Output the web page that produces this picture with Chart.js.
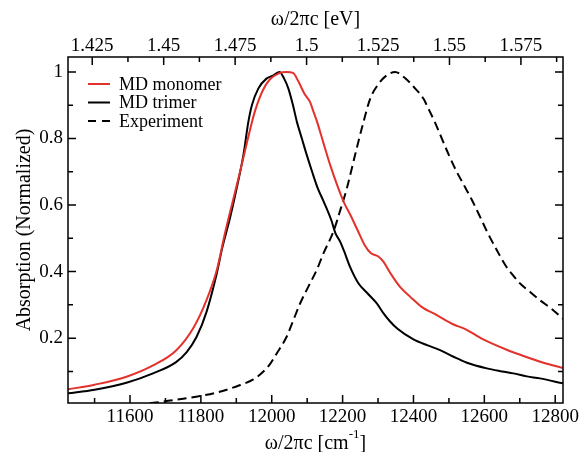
<!DOCTYPE html>
<html>
<head>
<meta charset="utf-8">
<script src="https://cdn.jsdelivr.net/npm/chart.js@4.4.0/dist/chart.umd.min.js"></script>
<style>
  body { margin: 0; background: #fff; }
</style>
</head>
<body>
<canvas id="absChart" width="583" height="452"></canvas>
<script>
// absorption spectra, wavenumber in cm^-1, normalized to the peak
var monomerX = [11425, 11500, 11590, 11665, 11730, 11780, 11815, 11845, 11868, 11892, 11915, 11935, 11952, 11975, 11995, 12020, 12042, 12060, 12075, 12092, 12108, 12118, 12128, 12145, 12165, 12188, 12205, 12222, 12242, 12262, 12280, 12300, 12315, 12335, 12362, 12391, 12423, 12466, 12513, 12545, 12597, 12663, 12701, 12767, 12822];
var monomerY = [0.046, 0.060, 0.084, 0.118, 0.163, 0.233, 0.312, 0.405, 0.515, 0.620, 0.720, 0.810, 0.880, 0.945, 0.978, 0.996, 1.000, 0.997, 0.972, 0.935, 0.910, 0.880, 0.850, 0.790, 0.720, 0.650, 0.605, 0.570, 0.525, 0.480, 0.455, 0.446, 0.430, 0.395, 0.354, 0.324, 0.294, 0.269, 0.241, 0.228, 0.196, 0.165, 0.150, 0.126, 0.110];

var trimerX = [11425, 11500, 11590, 11665, 11730, 11760, 11788, 11816, 11845, 11860, 11882, 11901, 11920, 11934, 11944, 11962, 11985, 12005, 12022, 12035, 12047, 12060, 12071, 12085, 12099, 12114, 12130, 12146, 12168, 12180, 12193, 12204, 12221, 12245, 12270, 12296, 12315, 12334, 12355, 12400, 12440, 12475, 12513, 12551, 12607, 12650, 12682, 12720, 12757, 12822];
var trimerY = [0.034, 0.045, 0.066, 0.094, 0.128, 0.158, 0.204, 0.279, 0.395, 0.470, 0.560, 0.650, 0.750, 0.850, 0.900, 0.950, 0.980, 0.990, 1.000, 0.980, 0.950, 0.900, 0.850, 0.800, 0.750, 0.700, 0.650, 0.612, 0.555, 0.515, 0.490, 0.462, 0.414, 0.364, 0.335, 0.305, 0.275, 0.250, 0.228, 0.196, 0.178, 0.164, 0.144, 0.126, 0.109, 0.100, 0.094, 0.085, 0.079, 0.064];

var exptX = [11656, 11704, 11750, 11798, 11840, 11873, 11911, 11948, 11975, 11995, 12014, 12042, 12061, 12080, 12103, 12127, 12146, 12174, 12195, 12212, 12235, 12259, 12278, 12300, 12320, 12348, 12376, 12405, 12428, 12442, 12460, 12480, 12500, 12522, 12545, 12565, 12590, 12610, 12635, 12659, 12680, 12701, 12730, 12757, 12790, 12822];
var exptY = [0.004, 0.011, 0.018, 0.026, 0.035, 0.045, 0.059, 0.076, 0.098, 0.122, 0.154, 0.204, 0.254, 0.304, 0.354, 0.405, 0.455, 0.520, 0.590, 0.650, 0.750, 0.850, 0.920, 0.962, 0.986, 1.000, 0.982, 0.950, 0.920, 0.890, 0.850, 0.800, 0.750, 0.700, 0.655, 0.615, 0.560, 0.515, 0.465, 0.420, 0.390, 0.364, 0.338, 0.314, 0.288, 0.258];

var cmTicks = [11600, 11800, 12000, 12200, 12400, 12600, 12800];
var cmMinor = [11500, 11700, 11900, 12100, 12300, 12500, 12700];
var evTicks = [1.425, 1.45, 1.475, 1.5, 1.525, 1.55, 1.575];
var evMinor = [1.4375, 1.4625, 1.4875, 1.5125, 1.5375, 1.5625, 1.5875];
var yTicks = [0.2, 0.4, 0.6, 0.8, 1];
var yMinor = [0.1, 0.3, 0.5, 0.7, 0.9];

var CM_PER_EV = 8065.54;
var xMin = 11425, xMax = 12822;
var serif = "'Liberation Serif', 'Times New Roman', serif";

function pts(xs, ys) {
  return xs.map(function (x, i) { return { x: x, y: ys[i] }; });
}

function fixTicks(list) {
  return function (scale) {
    scale.ticks = list.map(function (v) { return { value: v }; });
  };
}

// inward tick marks on all four sides plus the box
var frameTicks = {
  id: 'frameTicks',
  afterDraw: function (chart) {
    var ctx = chart.ctx, a = chart.chartArea;
    var sx = chart.scales.x, st = chart.scales.xTop, sy = chart.scales.y;
    ctx.save();
    ctx.strokeStyle = '#000';
    ctx.lineWidth = 1.5;
    ctx.setLineDash([]);
    ctx.beginPath();
    function bottomTick(v, len) {
      var p = sx.getPixelForValue(v);
      ctx.moveTo(p, a.bottom); ctx.lineTo(p, a.bottom - len);
    }
    function topTick(v, len) {
      var p = st.getPixelForValue(v);
      ctx.moveTo(p, a.top); ctx.lineTo(p, a.top + len);
    }
    function sideTick(v, len) {
      var p = sy.getPixelForValue(v);
      ctx.moveTo(a.left, p); ctx.lineTo(a.left + len, p);
      ctx.moveTo(a.right, p); ctx.lineTo(a.right - len, p);
    }
    cmTicks.forEach(function (v) { bottomTick(v, 8); });
    cmMinor.forEach(function (v) { bottomTick(v, 5); });
    evTicks.forEach(function (v) { topTick(v, 8); });
    evMinor.forEach(function (v) { topTick(v, 5); });
    yTicks.forEach(function (v) { sideTick(v, 8); });
    yMinor.forEach(function (v) { sideTick(v, 5); });
    ctx.stroke();
    ctx.strokeRect(a.left, a.top, a.right - a.left, a.bottom - a.top);

    // axis titles
    ctx.fillStyle = '#000';
    ctx.textBaseline = 'alphabetic';
    ctx.font = '20px ' + serif;
    var cx = (a.left + a.right) / 2;
    ctx.textAlign = 'center';
    ctx.fillText('\u03c9/2\u03c0c [eV]', cx, 25);

    var main = '\u03c9/2\u03c0c [cm', sup = '-1', tail = ']';
    var w1 = ctx.measureText(main).width, w3 = ctx.measureText(tail).width;
    ctx.font = '13px ' + serif;
    var w2 = ctx.measureText(sup).width;
    var x0 = cx - (w1 + w2 + w3) / 2;
    ctx.textAlign = 'left';
    ctx.font = '20px ' + serif;
    ctx.fillText(main, x0, 449);
    ctx.fillText(tail, x0 + w1 + w2, 449);
    ctx.font = '13px ' + serif;
    ctx.fillText(sup, x0 + w1, 438);

    ctx.font = '20px ' + serif;
    ctx.textAlign = 'center';
    ctx.translate(30, (a.top + a.bottom) / 2);
    ctx.rotate(-Math.PI / 2);
    ctx.fillText('Absorption (Normalized)', 0, 0);
    ctx.restore();
  }
};

// legend inside the plot, top left
var insetLegend = {
  id: 'insetLegend',
  afterDatasetsDraw: function (chart) {
    var ctx = chart.ctx, a = chart.chartArea;
    ctx.save();
    ctx.font = '18px ' + serif;
    ctx.textBaseline = 'middle';
    ctx.textAlign = 'left';
    chart.data.datasets.forEach(function (ds, i) {
      var y = a.top + 27 + i * 18.5;
      ctx.strokeStyle = ds.borderColor;
      ctx.lineWidth = ds.borderWidth;
      ctx.setLineDash(ds.borderDash ? [8, 6] : []);
      ctx.beginPath();
      ctx.moveTo(a.left + 20, y);
      ctx.lineTo(a.left + 42, y);
      ctx.stroke();
      ctx.fillStyle = '#000';
      ctx.fillText(ds.label, a.left + 51, y + 1);
    });
    ctx.restore();
  }
};

new Chart('absChart', {
  type: 'line',
  data: {
    datasets: [{
      label: 'MD monomer',
      data: pts(monomerX, monomerY),
      borderColor: '#e3312c',
      borderWidth: 2,
      pointRadius: 0,
      cubicInterpolationMode: 'monotone'
    }, {
      label: 'MD trimer',
      data: pts(trimerX, trimerY),
      borderColor: '#000000',
      borderWidth: 2,
      pointRadius: 0,
      cubicInterpolationMode: 'monotone'
    }, {
      label: 'Experiment',
      data: pts(exptX, exptY),
      borderColor: '#000000',
      borderWidth: 2,
      borderDash: [9, 5],
      pointRadius: 0,
      cubicInterpolationMode: 'monotone'
    }]
  },
  options: {
    responsive: false,
    animation: false,
    layout: { padding: { left: 0, right: 20, top: 0, bottom: 0 } },
    plugins: {
      legend: { display: false },
      tooltip: { enabled: false }
    },
    scales: {
      x: {
        type: 'linear',
        position: 'bottom',
        min: xMin,
        max: xMax,
        grid: { display: false, drawTicks: false },
        border: { display: false },
        afterBuildTicks: fixTicks(cmTicks),
        afterFit: function (s) { s.height = 49; },
        ticks: {
          padding: 3,
          color: '#000',
          font: { family: serif, size: 19 },
          callback: function (v) { return String(v); }
        }
      },
      xTop: {
        type: 'linear',
        position: 'top',
        min: xMin / CM_PER_EV,
        max: xMax / CM_PER_EV,
        grid: { display: false, drawTicks: false },
        border: { display: false },
        afterBuildTicks: fixTicks(evTicks),
        afterFit: function (s) { s.height = 57; },
        ticks: {
          padding: 0,
          color: '#000',
          font: { family: serif, size: 19 },
          callback: function (v) { return String(v); }
        }
      },
      y: {
        min: 0.005,
        max: 1.045,
        grid: { display: false, drawTicks: false },
        border: { display: false },
        afterBuildTicks: fixTicks(yTicks),
        afterFit: function (s) { s.width = 68; },
        ticks: {
          padding: 5,
          color: '#000',
          font: { family: serif, size: 19 },
          callback: function (v) { return String(v); }
        }
      }
    }
  },
  plugins: [insetLegend, frameTicks]
});
</script>
</body>
</html>
